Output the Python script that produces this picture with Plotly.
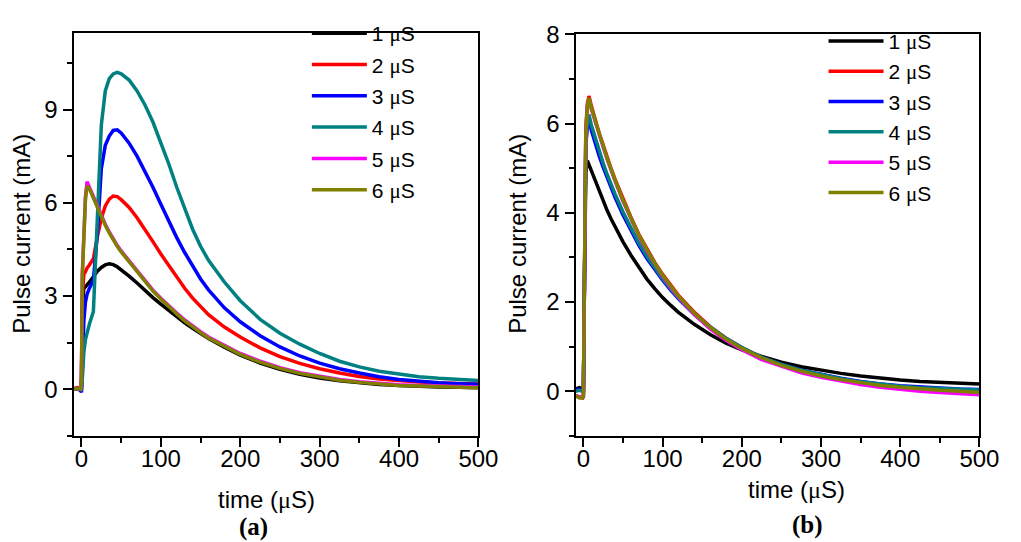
import plotly.graph_objects as go

# ---------------- data: panel (a) ----------------
t_a = [-10, -5, -1, 0, 1, 2, 3, 5, 7, 10,
       15, 20, 25, 30, 35, 40, 45, 50,
       60, 70, 80, 90, 100, 110, 120, 130, 140, 150, 160,
       180, 200, 225, 250, 275, 300, 325, 350, 375, 400, 425, 450, 475, 500]

a_1us = [0.02, 0.0, 0.03, 0.1, 2.6, 3.15, 3.25, 3.3, 3.35, 3.45,
         3.62, 3.8, 3.92, 4.0, 4.04, 4.01, 3.94, 3.85,
         3.64, 3.42, 3.18, 2.95, 2.74, 2.53, 2.33, 2.14, 1.96, 1.79, 1.63,
         1.35, 1.1, 0.84, 0.64, 0.48, 0.36, 0.27, 0.2, 0.15, 0.12, 0.09, 0.07, 0.06, 0.05]
a_2us = [0.02, 0.05, 0.0, 0.4, 3.0, 3.5, 3.7, 3.78, 3.9, 4.0,
         4.2, 4.9, 5.5, 5.9, 6.12, 6.22, 6.2, 6.1,
         5.85, 5.52, 5.15, 4.75, 4.35, 3.97, 3.6, 3.25, 2.93, 2.65, 2.4,
         2.0, 1.68, 1.33, 1.05, 0.83, 0.66, 0.52, 0.41, 0.33, 0.27, 0.23, 0.2, 0.18, 0.17]
a_3us = [0.0, 0.02, -0.05, -0.1, 0.5, 1.5, 2.2, 2.8, 3.05, 3.25,
         3.5, 5.0, 7.1, 7.85, 8.15, 8.33, 8.35, 8.25,
         7.92, 7.5, 7.02, 6.5, 5.95, 5.4, 4.88, 4.4, 3.95, 3.55, 3.2,
         2.62, 2.17, 1.72, 1.36, 1.07, 0.84, 0.66, 0.52, 0.4, 0.31, 0.25, 0.21, 0.18, 0.16]
a_4us = [0.0, 0.02, 0.0, -0.05, 0.3, 0.8, 1.2, 1.6, 1.85, 2.1,
         2.5, 5.3, 8.5, 9.6, 10.0, 10.15, 10.2, 10.15,
         9.95, 9.6, 9.15, 8.6, 7.95, 7.25, 6.5, 5.8, 5.15, 4.6, 4.15,
         3.45, 2.85, 2.25, 1.8, 1.45, 1.15, 0.9, 0.72, 0.58, 0.48, 0.4, 0.35, 0.31, 0.28]
a_5us = [0.0, 0.02, 0.0, 0.3, 3.7, 4.3, 5.1, 6.2, 6.68, 6.5,
         6.18, 5.88, 5.58, 5.31, 5.06, 4.83, 4.63, 4.45,
         4.13, 3.81, 3.49, 3.19, 2.93, 2.68, 2.45, 2.23, 2.03, 1.85, 1.68,
         1.4, 1.15, 0.9, 0.69, 0.53, 0.41, 0.31, 0.24, 0.18, 0.14, 0.12, 0.1, 0.08, 0.07]
a_6us = [0.0, 0.02, 0.0, 0.3, 3.6, 4.2, 5.0, 6.1, 6.55, 6.45,
         6.15, 5.85, 5.55, 5.28, 5.03, 4.8, 4.6, 4.42,
         4.1, 3.78, 3.46, 3.16, 2.9, 2.65, 2.42, 2.2, 2.0, 1.82, 1.65,
         1.37, 1.12, 0.87, 0.67, 0.51, 0.39, 0.29, 0.22, 0.16, 0.12, 0.1, 0.08, 0.06, 0.05]

# ---------------- data: panel (b) ----------------
t_b = [-10, -5, -1, 0, 1, 2, 3, 5, 7, 10,
       15, 20, 25, 30, 35, 40,
       50, 60, 70, 80, 90, 100, 110, 120,
       140, 160, 180, 200,
       225, 250, 275, 300, 325, 350, 375, 400, 425, 450, 475, 500]

b_1us = [0.05, 0.08, 0.05, 0.0, 2.0, 4.0, 4.9, 5.17, 5.08, 4.93,
         4.7, 4.48, 4.26, 4.05, 3.86, 3.68,
         3.35, 3.05, 2.77, 2.52, 2.3, 2.1, 1.93, 1.77,
         1.5, 1.27, 1.08, 0.93,
         0.78, 0.65, 0.55, 0.47, 0.4, 0.34, 0.29, 0.25, 0.22, 0.2, 0.18, 0.16]
b_2us = [-0.1, -0.12, -0.15, -0.12, 2.0, 4.6, 5.9, 6.45, 6.62, 6.4,
         6.08, 5.78, 5.52, 5.24, 4.99, 4.75,
         4.3, 3.9, 3.52, 3.2, 2.89, 2.62, 2.38, 2.15,
         1.77, 1.45, 1.19, 0.98,
         0.76, 0.59, 0.46, 0.35, 0.27, 0.2, 0.14, 0.1, 0.06, 0.03, 0.01, -0.02]
b_3us = [0.05, 0.04, 0.02, 0.0, 1.8, 4.2, 5.5, 5.95, 6.08, 5.85,
         5.55, 5.27, 5.02, 4.78, 4.55, 4.34,
         3.95, 3.6, 3.27, 2.98, 2.72, 2.49, 2.27, 2.07,
         1.72, 1.43, 1.18, 0.97,
         0.76, 0.6, 0.47, 0.37, 0.29, 0.22, 0.16, 0.12, 0.09, 0.07, 0.05, 0.04]
b_4us = [0.0, 0.02, 0.0, -0.05, 1.9, 4.3, 5.6, 6.05, 6.2, 5.97,
         5.66, 5.37, 5.11, 4.86, 4.63, 4.42,
         4.02, 3.66, 3.32, 3.03, 2.76, 2.52, 2.3, 2.09,
         1.73, 1.44, 1.19, 0.98,
         0.76, 0.6, 0.47, 0.37, 0.28, 0.21, 0.15, 0.11, 0.08, 0.06, 0.04, 0.03]
b_5us = [-0.1, -0.12, -0.15, -0.12, 2.0, 4.5, 5.8, 6.4, 6.55, 6.33,
         6.03, 5.73, 5.47, 5.2, 4.95, 4.71,
         4.26, 3.86, 3.48, 3.15, 2.85, 2.58, 2.34, 2.11,
         1.72, 1.4, 1.14, 0.93,
         0.71, 0.55, 0.41, 0.31, 0.22, 0.15, 0.09, 0.04, 0.0, -0.03, -0.06, -0.08]
b_6us = [-0.1, -0.15, -0.15, -0.1, 2.0, 4.5, 5.8, 6.4, 6.58, 6.35,
         6.05, 5.75, 5.5, 5.22, 4.97, 4.73,
         4.28, 3.88, 3.5, 3.18, 2.87, 2.6, 2.36, 2.13,
         1.75, 1.43, 1.17, 0.96,
         0.75, 0.58, 0.45, 0.34, 0.26, 0.19, 0.13, 0.09, 0.05, 0.02, 0.0, -0.03]

labels = ["1", "2", "3", "4", "5", "6"]
colors = ["#000000", "#FF0000", "#0000FF", "#008080", "#FF00FF", "#808000"]

series_a = [a_1us, a_2us, a_3us, a_4us, a_5us, a_6us]
series_b = [b_1us, b_2us, b_3us, b_4us, b_5us, b_6us]

MU = '<span style="font-family:Liberation Serif">μ</span>'
FONT = "Liberation Sans, Arial, sans-serif"

W, H = 1021, 542


def px_x(p):
    return p / W


def px_y(p):
    return 1 - p / H


fig = go.Figure()

for i in range(6):
    fig.add_trace(go.Scatter(
        x=t_a, y=series_a[i], mode="lines", name=f"{labels[i]} {MU}S",
        line=dict(color=colors[i], width=3.5), xaxis="x", yaxis="y",
        legend="legend", legendgroup=f"a{i}"))
for i in range(6):
    fig.add_trace(go.Scatter(
        x=t_b, y=series_b[i], mode="lines", name=f"{labels[i]} {MU}S",
        line=dict(color=colors[i], width=3.5), xaxis="x2", yaxis="y2",
        legend="legend2", legendgroup=f"b{i}"))

axis_common = dict(
    showline=True, linecolor="black", linewidth=2, mirror=True,
    ticks="outside", ticklen=9, tickwidth=2, tickcolor="black",
    showgrid=False, zeroline=False,
    tickfont=dict(family=FONT, size=24, color="black"),
)
minor_common = dict(ticks="outside", ticklen=5, tickwidth=2, tickcolor="black", tick0=0)

fig.update_layout(
    width=W, height=H,
    margin=dict(l=0, r=0, t=0, b=0),
    paper_bgcolor="white", plot_bgcolor="white",
    font=dict(family=FONT, color="black"),
    xaxis=dict(domain=[px_x(75), px_x(488)], range=[-10, 500], tick0=0, dtick=100,
               ticklabelstandoff=-9,
               minor=dict(dtick=50, **minor_common), anchor="y", **axis_common),
    yaxis=dict(domain=[px_y(433), px_y(20)], range=[-1.5, 11.45], tick0=0, dtick=3,
               minor=dict(dtick=1.5, **minor_common), anchor="x", **axis_common),
    xaxis2=dict(domain=[px_x(587), px_x(999)], range=[-10, 500], tick0=0, dtick=100,
                ticklabelstandoff=-9,
                minor=dict(dtick=50, **minor_common), anchor="y2", **axis_common),
    yaxis2=dict(domain=[px_y(433), px_y(21)], range=[-1, 8], tick0=0, dtick=2,
                minor=dict(dtick=1, **minor_common), anchor="x2", **axis_common),
    legend=dict(x=px_x(313), y=px_y(-1), xanchor="left", yanchor="top",
                bgcolor="rgba(0,0,0,0)", font=dict(family=FONT, size=21, color="black"),
                itemwidth=55, tracegroupgap=1, traceorder="grouped"),
    legend2=dict(x=px_x(840), y=px_y(7), xanchor="left", yanchor="top",
                 bgcolor="rgba(0,0,0,0)", font=dict(family=FONT, size=21, color="black"),
                 itemwidth=55, tracegroupgap=0, traceorder="grouped"),
    showlegend=True,
)

annotations = [
    dict(text="Pulse current (mA)", x=px_x(22), y=px_y(226), textangle=-90),
    dict(text="Pulse current (mA)", x=px_x(528), y=px_y(226), textangle=-90),
    dict(text=f"time ({MU}S)", x=px_x(272), y=px_y(498)),
    dict(text=f"time ({MU}S)", x=px_x(812), y=px_y(488)),
]
for a in annotations:
    fig.add_annotation(xref="paper", yref="paper", xanchor="center", yanchor="middle",
                       showarrow=False, font=dict(family=FONT, size=24, color="black"), **a)

fig.add_annotation(text="<b>(a)</b>", x=px_x(259), y=px_y(527), xref="paper", yref="paper",
                   showarrow=False, xanchor="center", yanchor="middle",
                   font=dict(family="Liberation Serif, Times New Roman, serif", size=25, color="black"))
fig.add_annotation(text="<b>(b)</b>", x=px_x(824), y=px_y(525), xref="paper", yref="paper",
                   showarrow=False, xanchor="center", yanchor="middle",
                   font=dict(family="Liberation Serif, Times New Roman, serif", size=25, color="black"))

fig.write_html("out.html")
